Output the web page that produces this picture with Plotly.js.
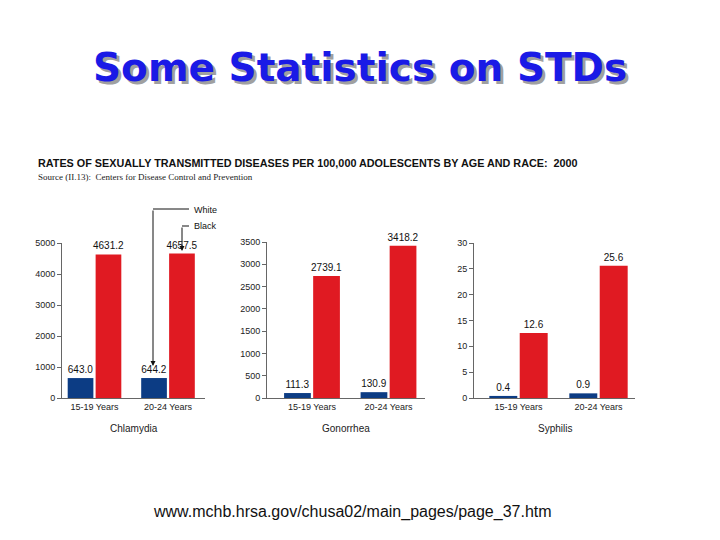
<!DOCTYPE html>
<html><head><meta charset="utf-8">
<script src="https://cdn.plot.ly/plotly-3.0.1.min.js"></script>
<style>body{margin:0;background:#fff}#c{width:720px;height:540px}</style>
</head><body><div id="c"></div>
<script>
const ageGroups = ['15-19 Years', '20-24 Years'];
const diseases = ['Chlamydia', 'Gonorrhea', 'Syphilis'];
const chlamydiaWhite = [643.0, 644.2];
const chlamydiaBlack = [4631.2, 4657.5];
const gonorrheaWhite = [111.3, 130.9];
const gonorrheaBlack = [2739.1, 3418.2];
const syphilisWhite = [0.4, 0.9];
const syphilisBlack = [12.6, 25.6];
const yTicks = [[0,1000,2000,3000,4000,5000],[0,500,1000,1500,2000,2500,3000,3500],[0,5,10,15,20,25,30]];

const W = 720, H = 540;
const BLUE = '#0c3c84', RED = '#e01a22';
const px = v => v / W, py = v => 1 - v / H;

const series = [[chlamydiaWhite, chlamydiaBlack],[gonorrheaWhite, gonorrheaBlack],[syphilisWhite, syphilisBlack]];
const traces = [];
series.forEach((s, i) => {
  const ax = i === 0 ? '' : String(i + 1);
  [['White', s[0], BLUE], ['Black', s[1], RED]].forEach(([name, vals, col]) => {
    traces.push({type:'bar', x: ageGroups, y: vals, name, xaxis:'x'+ax, yaxis:'y'+ax,
      marker:{color:col}, texttemplate:'%{y:.1f}', textposition:'outside', cliponaxis:false,
      constraintext:'none',
      textfont:{family:'Liberation Sans, Arial', size:10, color:'#111'}, showlegend:false, hoverinfo:'skip'});
  });
});

// panel geometry (pixels)
const panels = [
  {x0:62, x1:205, y0:398, y1:243, ymax:5000, c:[94.5,168]},
  {x0:267, x1:425, y0:398, y1:242, ymax:3500, c:[312,388.5]},
  {x0:474, x1:635, y0:398, y1:243, ymax:30, c:[518.5,598.5]}
];
const layout = {width:W, height:H, margin:{l:0,r:0,t:0,b:0}, paper_bgcolor:'#fff', plot_bgcolor:'rgba(0,0,0,0)',
  barmode:'group', bargap:0.24, bargroupgap:0.08, annotations:[], shapes:[]};
panels.forEach((p, i) => {
  const ax = i === 0 ? '' : String(i + 1);
  const sp = p.c[1] - p.c[0];
  const xr = [-(p.c[0]-p.x0)/sp, 1 + (p.x1-p.c[1])/sp];
  layout['xaxis'+ax] = {domain:[px(p.x0), px(p.x1)], anchor:'y'+ax, range:xr, type:'category',
    showline:true, linecolor:'#666', linewidth:1, ticks:'', showgrid:false, zeroline:false,
    tickfont:{family:'Liberation Sans, Arial', size:9, color:'#222'}};
  layout['yaxis'+ax] = {domain:[py(p.y0), py(p.y1)], anchor:'x'+ax, range:[0, p.ymax],
    tickvals:yTicks[i], showline:true, linecolor:'#666', linewidth:1, ticks:'outside', ticklen:4,
    tickcolor:'#666', showgrid:false, zeroline:false,
    tickfont:{family:'Liberation Sans, Arial', size:9, color:'#222'}};
  layout.annotations.push({text:diseases[i], xref:'paper', yref:'paper', x:px((p.x0+p.x1)/2), y:py(428),
    showarrow:false, font:{family:'Liberation Sans, Arial', size:10, color:'#222'}, xanchor:'center', yanchor:'middle'});
});

const A = layout.annotations, S = layout.shapes;
// title with shadow
A.push({text:'<b>Some Statistics on STDs</b>', xref:'paper', yref:'paper', x:px(360), y:py(68), showarrow:false,
  font:{family:'DejaVu Sans', size:39, color:'#1a1ae6', shadow:'3px 3px 0px #a0a0a0'}, xanchor:'center', yanchor:'middle'});
// header
A.push({text:'<b>RATES OF SEXUALLY TRANSMITTED DISEASES PER 100,000 ADOLESCENTS BY AGE AND RACE:  2000</b>',
  xref:'paper', yref:'paper', x:px(36), y:py(163), showarrow:false, xanchor:'left', yanchor:'middle',
  font:{family:'Liberation Sans, Arial', size:10.8, color:'#111'}});
A.push({text:'Source (II.13):  Centers for Disease Control and Prevention', xref:'paper', yref:'paper',
  x:px(36), y:py(177), showarrow:false, xanchor:'left', yanchor:'middle',
  font:{family:'Liberation Serif, Times New Roman', size:9, color:'#222'}});
// legend callouts
A.push({text:'White', xref:'paper', yref:'paper', x:px(192), y:py(210), showarrow:false, xanchor:'left', yanchor:'middle',
  font:{family:'Liberation Sans, Arial', size:9, color:'#111'}});
A.push({text:'Black', xref:'paper', yref:'paper', x:px(192), y:py(226), showarrow:false, xanchor:'left', yanchor:'middle',
  font:{family:'Liberation Sans, Arial', size:9, color:'#111'}});
A.push({text:'', xref:'paper', yref:'paper', x:px(153), y:py(366), ax:0, ay:-157, showarrow:true,
  arrowhead:2, arrowsize:1, arrowwidth:1, arrowcolor:'#111'});
A.push({text:'', xref:'paper', yref:'paper', x:px(182), y:py(251), ax:0, ay:-25, showarrow:true,
  arrowhead:2, arrowsize:1, arrowwidth:1, arrowcolor:'#111'});
S.push({type:'line', xref:'paper', yref:'paper', x0:px(153), x1:px(189), y0:py(209), y1:py(209), line:{color:'#111', width:1}});
S.push({type:'line', xref:'paper', yref:'paper', x0:px(182), x1:px(189), y0:py(226), y1:py(226), line:{color:'#111', width:1}});
// footer
A.push({text:'www.mchb.hrsa.gov/chusa02/main_pages/page_37.htm', xref:'paper', yref:'paper', x:px(352), y:py(512),
  showarrow:false, xanchor:'center', yanchor:'middle', font:{family:'Liberation Sans, Arial', size:16, color:'#111'}});

Plotly.newPlot('c', traces, layout, {displayModeBar:false, staticPlot:true});
</script></body></html>
